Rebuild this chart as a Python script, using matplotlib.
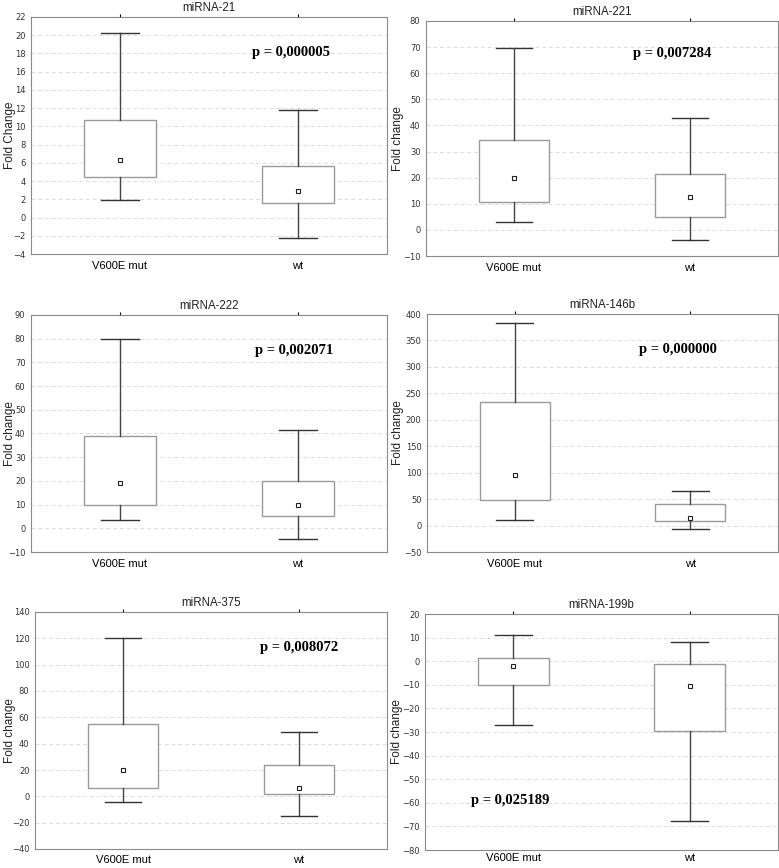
import matplotlib.pyplot as plt

plt.rcParams['font.family'] = ['Liberation Sans', 'DejaVu Sans']

groups = ["V600E mut", "wt"]
titles = ["miRNA-21", "miRNA-221", "miRNA-222", "miRNA-146b", "miRNA-375", "miRNA-199b"]
ylabels = ["Fold Change", "Fold change", "Fold change", "Fold change", "Fold change", "Fold change"]
pvalues = ["p = 0,000005", "p = 0,007284", "p = 0,002071", "p = 0,000000", "p = 0,008072", "p = 0,025189"]

# per group: whisker low, box low, mean, box high, whisker high
mir21 = [[1.9, 4.4, 6.3, 10.7, 20.2], [-2.2, 1.6, 2.9, 5.7, 11.8]]
mir221 = [[3.2, 10.8, 20.0, 34.5, 69.5], [-4.0, 4.8, 12.5, 21.3, 42.8]]
mir222 = [[3.6, 9.8, 19.0, 38.8, 80.0], [-4.5, 5.1, 10.0, 19.9, 41.5]]
mir146b = [[11, 48, 95, 233, 383], [-7, 9, 15, 41, 66]]
mir375 = [[-4.5, 6.5, 20, 55, 120], [-15, 1.5, 6, 24, 49]]
mir199b = [[-27, -10, -2, 1.3, 11], [-67.8, -29.5, -10.5, -1.3, 8.3]]
data = [mir21, mir221, mir222, mir146b, mir375, mir199b]

ylims = [(-4, 22), (-10, 80), (-10, 90), (-50, 400), (-40, 140), (-80, 20)]
ysteps = [2, 10, 10, 50, 20, 10]
ptext_pos = [(0.73, 0.85), (0.70, 0.86), (0.74, 0.85), (0.715, 0.85), (0.75, 0.85), (0.24, 0.21)]

# axes boxes in pixels: left, right, top, bottom
boxes_px = [(31, 387, 17, 254), (426, 778, 21, 256),
            (31, 387, 315, 552), (427, 778, 314, 552),
            (35, 387, 612, 849), (425, 778, 614, 850)]
# right edge of the rotated y label, in pixels
ylabel_x_px = [16, 404, 16, 404, 16, 403]
xlabel_pad = [5, 5, 5, 5, 4, 2]

W, H = 779, 868
fig = plt.figure(figsize=(W / 100, H / 100), dpi=100)

for i in range(6):
    l, r, t, b = boxes_px[i]
    ax = fig.add_axes([l / W, 1 - b / H, (r - l) / W, (b - t) / H])
    stats = []
    for g, v in zip(groups, data[i]):
        stats.append({'label': g, 'whislo': v[0], 'q1': v[1], 'med': v[2],
                      'mean': v[2], 'q3': v[3], 'whishi': v[4], 'fliers': []})
    ax.bxp(stats, positions=[0, 1], widths=0.4, capwidths=0.21,
           showmeans=True, patch_artist=True,
           boxprops=dict(facecolor='white', edgecolor='#9a9a9a', linewidth=1.0),
           whiskerprops=dict(color='#444444', linewidth=1.0),
           capprops=dict(color='#333333', linewidth=1.0),
           medianprops=dict(linewidth=0),
           meanprops=dict(marker='s', markersize=3.5, markerfacecolor='white',
                          markeredgecolor='#222222', markeredgewidth=0.8),
           zorder=3)
    ax.set_xlim(-0.5, 1.5)
    lo, hi = ylims[i]
    ax.set_ylim(lo, hi)
    ax.set_yticks(range(lo, hi + 1, ysteps[i]))
    ax.yaxis.grid(True, linestyle=(0, (4, 3)), color='#dcdcdc', linewidth=0.7)
    ax.set_axisbelow(True)
    ax.tick_params(axis='y', length=0, pad=4, labelcolor='#333333')
    for lab in ax.get_yticklabels():
        lab.set_fontfamily('DejaVu Sans')
        lab.set_fontsize(6)
    ax.tick_params(axis='x', labelsize=8, length=0, pad=xlabel_pad[i])
    ax.tick_params(axis='x', which='major', top=True)
    for tk in ax.xaxis.get_major_ticks():
        tk.tick2line.set_markersize(2)
        tk.tick2line.set_color('#777777')
    for s in ax.spines.values():
        s.set_color('#8a8a8a')
        s.set_linewidth(0.8)
    ax.set_title(titles[i], fontsize=8.3, pad=4, color='#222222')
    ax.set_ylabel(ylabels[i], fontsize=8.5, color='#222222')
    ax.yaxis.set_label_coords((ylabel_x_px[i] - l) / (r - l), 0.5)
    px, py = ptext_pos[i]
    ax.text(px, py, pvalues[i], transform=ax.transAxes, ha='center', va='center',
            fontsize=10.5, fontweight='bold', family=['Liberation Serif', 'DejaVu Serif'])

fig.savefig('out.png', dpi=100)
